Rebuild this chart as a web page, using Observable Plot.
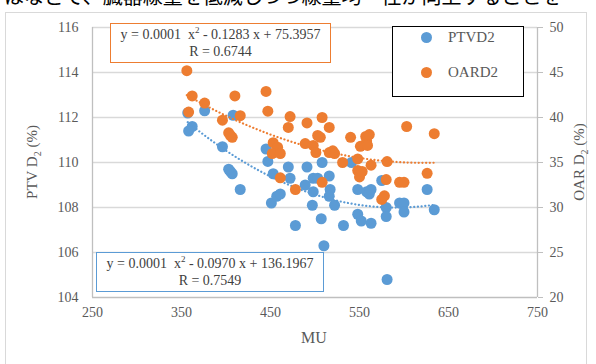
<!DOCTYPE html>
<html><head><meta charset="utf-8">
<script src="https://cdn.jsdelivr.net/npm/d3@7"></script>
<script src="https://cdn.jsdelivr.net/npm/@observablehq/plot@0.6"></script>
<style>
body{margin:0;background:#fff;width:596px;height:364px;overflow:hidden;position:relative;font-family:"Liberation Serif",serif}
#top{position:absolute;left:4px;top:-14px;font:20px/20px "Noto Sans CJK JP";white-space:nowrap;color:#000}
#frame{position:absolute;left:5px;top:12px;width:582px;height:370px;border:1px solid #d9d9d9;box-sizing:border-box}
#chart{position:absolute;left:0;top:0}
.eq{position:absolute;background:#fff;box-sizing:border-box;text-align:center;font:14px/17px "Liberation Serif",serif;color:#404040;padding-top:2px}
.eq sup{font-size:9px;line-height:0;vertical-align:6px}
#legend{position:absolute;left:392px;top:26px;width:132px;height:71px;border:1.5px solid #000;box-sizing:border-box;background:#fff;font:15px "Liberation Serif",serif;color:#595959}
.li{position:absolute;left:0;display:flex;align-items:center}
.li span.m{display:inline-block;width:11px;height:11px;border-radius:50%;margin-left:28px;margin-right:16px}
</style></head><body>
<div id="top">はなどで、臓器線量を低減しつつ線量均一性が向上することを</div>
<div id="frame"></div>
<div id="chart"></div>
<script>
// ---- data ----
const seriesNames = ["PTVD2", "OARD2"];
const muPTV = [357,362,358,376,408,396,405,407,403,416,445,447,453,451,457,461,470,472,478,489,491,497,508,498,503,498,507,510,516,517,516,522,532,541,548,548,552,558,561,563,563,575,580,580,581,595,600,600,626,634];
const ptvD2 = [112.2,111.6,111.4,112.3,112.1,110.7,109.6,109.5,109.7,108.8,110.6,110.05,109.5,108.2,108.5,108.6,109.8,109.3,107.2,109.0,109.8,108.1,110.0,109.3,109.3,108.7,107.5,106.3,109.4,108.8,108.5,108.1,107.2,110.0,108.8,107.7,107.4,108.7,108.6,107.3,108.8,109.2,108.0,107.6,104.8,108.2,108.2,107.8,108.8,107.9];
const muOAR = [356,362,358,376,396,410,416,403,407,405,445,447,453,458,452,461,472,470,461,478,489,491,508,516,498,503,506,501,516,520,522,531,540,548,548,550,553,551,557,558,559,561,563,575,578,580,581,595,600,603,626,634,508];
const oarD2 = [45.2,42.4,40.6,41.6,39.7,42.4,40.2,38.3,37.8,38.0,42.9,40.7,37.2,36.7,36.0,36.0,40.1,38.9,33.3,32.0,37.1,39.4,40.0,38.9,36.9,38.0,37.8,36.1,36.1,36.3,36.0,35.0,37.8,35.4,34.1,33.4,34.0,36.8,37.9,37.4,36.9,38.1,34.7,30.9,31.3,33.1,35.1,32.8,32.8,39.0,33.8,38.2,32.8];
const xTicks = [250,350,450,550,650,750];
const leftTicks = [104,106,108,110,112,114,116];
const rightTicks = [20,25,30,35,40,45,50];
const eqPTV = {a:"0.0001", b:"0.0970", c:"136.1967", r:"0.7549"};
const eqOAR = {a:"0.0001", b:"0.1283", c:"75.3957", r:"0.6744"};

const BLUE = "#5b9bd5", ORANGE = "#ed7d31", GRID = "#d9d9d9", AXIS = "#bfbfbf", TXT = "#595959";

// right axis (OAR 20..50) mapped onto left axis domain (104..116)
const toLeft = v => 104 + (v - 20) * (116 - 104) / (50 - 20);

const ptv = muPTV.map((x, i) => ({x, y: ptvD2[i]}));
const oar = muOAR.map((x, i) => ({x, y: toLeft(oarD2[i])}));

// least-squares quadratic trendline from the points
function quadFit(xs, ys) {
  const m = d3.mean(xs);
  const u = xs.map(x => x - m);
  let S = Array(5).fill(0), T = Array(3).fill(0);
  u.forEach((ui, i) => { for (let k = 0; k < 5; k++) S[k] += ui ** k; for (let k = 0; k < 3; k++) T[k] += ys[i] * ui ** k; });
  const A = [[S[0],S[1],S[2],T[0]],[S[1],S[2],S[3],T[1]],[S[2],S[3],S[4],T[2]]];
  for (let i = 0; i < 3; i++) { for (let j = i + 1; j < 3; j++) { const f = A[j][i] / A[i][i]; for (let k = i; k < 4; k++) A[j][k] -= f * A[i][k]; } }
  const c = [0,0,0];
  for (let i = 2; i >= 0; i--) { let s = A[i][3]; for (let k = i + 1; k < 3; k++) s -= A[i][k] * c[k]; c[i] = s / A[i][i]; }
  const [x0, x1] = d3.extent(xs);
  return d3.range(x0, x1 + 0.001, (x1 - x0) / 80).map(x => ({x, y: c[0] + c[1] * (x - m) + c[2] * (x - m) ** 2}));
}
const fitPTV = quadFit(muPTV, ptvD2);
const fitOAR = quadFit(muOAR, oarD2.map(toLeft));

const plot = Plot.plot({
  width: 596, height: 364,
  marginLeft: 92, marginRight: 59, marginTop: 27, marginBottom: 67,
  style: {fontFamily: "'Liberation Serif', serif", fontSize: "14px", color: TXT, background: "transparent"},
  x: {domain: [250, 750]},
  y: {domain: [104, 116]},
  marks: [
    Plot.gridY(leftTicks.filter(t => t > 104), {stroke: GRID, strokeOpacity: 1, strokeWidth: 1.3}),
    Plot.ruleX([250, 750], {stroke: AXIS, strokeWidth: 1.3}),
    Plot.ruleY([104], {stroke: AXIS, strokeWidth: 1.3}),
    Plot.axisX({ticks: xTicks, tickSize: 0, tickPadding: 10, label: null, fill: TXT}),
    Plot.axisY({ticks: leftTicks, tickSize: 0, tickPadding: 14, label: null, fill: TXT}),
    Plot.axisY({anchor: "right", ticks: leftTicks, tickSize: 5, tickPadding: 7, stroke: AXIS,
      tickFormat: d => rightTicks[leftTicks.indexOf(d)], label: null, fill: TXT}),
    Plot.dot(ptv, {x: "x", y: "y", r: 5.5, fill: BLUE}),
    Plot.line(fitPTV, {x: "x", y: "y", stroke: BLUE, strokeWidth: 2.2, strokeDasharray: "0.1,3.6", strokeLinecap: "round"}),
    Plot.dot(oar, {x: "x", y: "y", r: 5.5, fill: ORANGE}),
    Plot.line(fitOAR, {x: "x", y: "y", stroke: ORANGE, strokeWidth: 2.2, strokeDasharray: "0.1,3.6", strokeLinecap: "round"})
  ]
});
document.getElementById("chart").append(plot);

// axis titles with subscripts
const svg = d3.select(plot);
svg.append("text").attr("x", 314).attr("y", 343).attr("text-anchor", "middle")
  .attr("font-size", 16).attr("fill", TXT).text("MU");
function vlabel(x, name) {
  const t = svg.append("text").attr("transform", `translate(${x},162) rotate(-90)`)
    .attr("text-anchor", "middle").attr("font-size", 15).attr("fill", TXT);
  t.append("tspan").text(name + " D");
  t.append("tspan").attr("font-size", 10).attr("dy", 4).text("2");
  t.append("tspan").attr("dy", -4).text(" (%)");
}
vlabel(37, "PTV");
vlabel(584, "OAR");

// equation boxes
function eqBox(e, left, top, width, color) {
  const d = document.createElement("div");
  d.className = "eq";
  Object.assign(d.style, {left: left + "px", top: top + "px", width: width + "px", height: "40px", border: `1.5px solid ${color}`});
  d.innerHTML = `y = ${e.a}&nbsp; x<sup>2</sup> - ${e.b} x + ${e.c}<br>R = ${e.r}`;
  document.body.append(d);
}
eqBox(eqOAR, 110, 23, 221, ORANGE);
eqBox(eqPTV, 96, 252, 228, BLUE);

// legend
const lg = document.createElement("div");
lg.id = "legend";
[[seriesNames[0], BLUE, 1], [seriesNames[1], ORANGE, 36]].forEach(([n, c, t]) => {
  const r = document.createElement("div");
  r.className = "li"; r.style.top = t + "px"; r.style.height = "18px";
  r.innerHTML = `<span class="m" style="background:${c}"></span><span>${n}</span>`;
  lg.append(r);
});
document.body.append(lg);
</script>
</body></html>
